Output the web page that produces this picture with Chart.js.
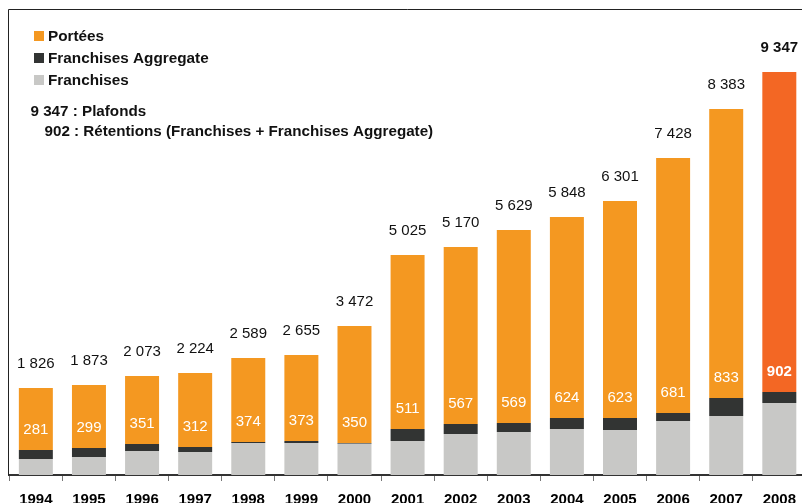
<!DOCTYPE html>
<html>
<head>
<meta charset="utf-8">
<script src="https://cdn.jsdelivr.net/npm/chart.js@4.4.1/dist/chart.umd.min.js"></script>
<style>
  html, body { margin: 0; padding: 0; background: #fff; overflow: hidden; width: 802px; height: 503px; }
  #c { position: absolute; left: 0; top: 0; }
</style>
</head>
<body>
<canvas id="c" width="806" height="519"></canvas>
<script>
// ---- data ----
const categories = ['1994','1995','1996','1997','1998','1999','2000','2001','2002','2003','2004','2005','2006','2007','2008'];
// labels written on the chart
const totals     = [1826,1873,2073,2224,2589,2655,3472,5025,5170,5629,5848,6301,7428,8383,9347]; // Plafonds
const retentions = [281,299,351,312,374,373,350,511,567,569,624,623,681,833,902];                 // Rétentions
// segment heights as drawn (axis units)
const franchises = [370,416,555,532,740,740,724,786,948,994,1064,1040,1248,1364,1665];
const aggregate  = [208,208,162,116,23,46,16,277,231,208,254,277,185,416,254];
const portees    = [1433,1457,1572,1711,1942,1988,2705,4023,4092,4462,4647,5017,5896,6682,7398];

const FONT = '"Liberation Sans", Arial, Helvetica, sans-serif';
const COL_ORANGE = 'rgb(244,152,33)';
const COL_RED = 'rgb(243,103,36)';
const COL_DARK = 'rgb(50,52,51)';
const COL_GREY = 'rgb(200,200,198)';

function fmt(v){ return String(v).replace(/\B(?=(\d{3})+(?!\d))/g, ' '); }

const decor = {
  id: 'decor',
  afterDatasetsDraw(chart) {
    const ctx = chart.ctx;
    const topBars = chart.getDatasetMeta(2).data;
    ctx.save();
    ctx.textAlign = 'center';
    ctx.textBaseline = 'middle';
    topBars.forEach((bar, i) => {
      const last = i === categories.length - 1;
      ctx.font = (last ? 'bold ' : '') + '15px ' + FONT;
      ctx.fillStyle = '#111';
      ctx.fillText(fmt(totals[i]), bar.x, bar.y - 24);
      ctx.fillStyle = '#fff';
      ctx.fillText(fmt(retentions[i]), bar.x, bar.base - 20);
    });
    ctx.restore();
  },
  afterDraw(chart) {
    const ctx = chart.ctx;
    const a = chart.chartArea;
    ctx.save();
    // frame (top + left)
    ctx.strokeStyle = '#222';
    ctx.lineWidth = 1;
    ctx.beginPath();
    ctx.moveTo(8.5, a.bottom);
    ctx.lineTo(8.5, 9.5);
    ctx.lineTo(chart.width, 9.5);
    ctx.stroke();
    // legend
    const items = [['Portées', COL_ORANGE], ['Franchises Aggregate', COL_DARK], ['Franchises', COL_GREY]];
    ctx.font = 'bold 15.3px ' + FONT;
    ctx.textAlign = 'left';
    ctx.textBaseline = 'alphabetic';
    items.forEach((it, k) => {
      const y = 31 + k * 22;
      ctx.fillStyle = it[1];
      ctx.fillRect(34, y, 10, 10);
      ctx.fillStyle = '#111';
      ctx.fillText(it[0], 48, y + 10);
    });
    // notes
    ctx.font = 'bold 15.2px ' + FONT;
    ctx.fillText(fmt(totals[totals.length - 1]) + ' : Plafonds', 30.5, 115.5);
    ctx.fillText(fmt(retentions[retentions.length - 1]) + ' : Rétentions (Franchises + Franchises Aggregate)', 44.5, 136);
    ctx.restore();
  }
};

const n = categories.length;
new Chart(document.getElementById('c'), {
  type: 'bar',
  data: {
    labels: categories,
    datasets: [
      { label: 'Franchises', data: franchises, backgroundColor: COL_GREY },
      { label: 'Franchises Aggregate', data: aggregate, backgroundColor: COL_DARK },
      { label: 'Portées', data: portees, backgroundColor: categories.map((c, i) => i === n - 1 ? COL_RED : COL_ORANGE) }
    ]
  },
  options: {
    responsive: false,
    animation: false,
    events: [],
    layout: { padding: { top: 10, left: 9.3, right: 0, bottom: 0 } },
    datasets: { bar: { barPercentage: 0.64, categoryPercentage: 1.0, borderWidth: 0 } },
    plugins: { legend: { display: false }, tooltip: { enabled: false }, title: { display: false } },
    scales: {
      x: {
        stacked: true,
        grid: { display: true, drawOnChartArea: false, drawTicks: true, tickLength: 6, color: '#777', offset: true },
        border: { display: true, color: '#333', width: 2 },
        ticks: { color: '#000', font: { size: 15, weight: 'bold', family: FONT }, padding: 10, maxRotation: 0, autoSkip: false }
      },
      y: { stacked: true, display: false, min: 0, max: 10750 }
    }
  },
  plugins: [decor]
});
</script>
</body>
</html>
